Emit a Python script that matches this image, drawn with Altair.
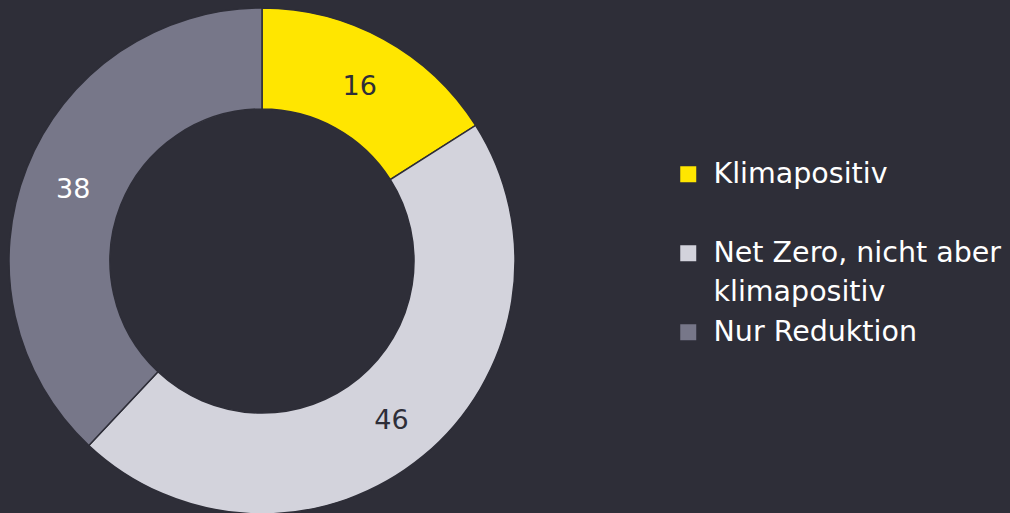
import altair as alt
import pandas as pd

categories = ["Klimapositiv", "Net Zero, nicht aber\nklimapositiv", "Nur Reduktion"]
values = [16, 46, 38]
slice_colors = ["#ffe600", "#d3d3dc", "#777789"]
label_colors = ["#2e2e38", "#2e2e38", "#ffffff"]
order = [0, 1, 2]

df = pd.DataFrame({
    "cat": categories,
    "value": values,
    "order": order,
    "lab": [str(v) for v in values],
    "labcolor": label_colors,
})

BG = "#2e2e38"
CX, CY = 262, 261

base = alt.Chart(df).encode(
    theta=alt.Theta("value:Q", stack=True),
    order=alt.Order("order:Q"),
)

arcs = base.mark_arc(
    outerRadius=253, innerRadius=152, stroke=BG, strokeWidth=1.5
).encode(
    x=alt.value(CX), y=alt.value(CY),
    color=alt.Color(
        "cat:N",
        scale=alt.Scale(domain=categories, range=slice_colors),
        legend=alt.Legend(
            title=None,
            orient="none",
            legendX=674,
            legendY=160,
            padding=0,
            symbolType="square",
            symbolSize=256,
            symbolStrokeWidth=0,
            labelFont="DejaVu Sans",
            labelFontSize=28.5,
            labelColor="#ffffff",
            labelLimit=500,
            labelOffset=11,
            labelExpr="split(datum.label, '\\n')",
            rowPadding=11,
            gridAlign="all",
        ),
    ),
)

texts = base.mark_text(
    radius=203, font="DejaVu Sans", fontSize=27, baseline="middle", align="center", dy=3.5
).encode(
    x=alt.value(CX), y=alt.value(CY),
    text="lab:N",
    color=alt.Color("labcolor:N", scale=None),
)

chart = (arcs + texts).properties(
    width=1010, height=513,
    padding=0,
    autosize=alt.AutoSizeParams(type="none"),
    background=BG,
).configure(
    style={"guide-label": {"lineHeight": 39}},
    view={"stroke": "transparent", "strokeWidth": 0},
)

chart.save("out.html", embed_options={"renderer": "svg", "actions": False})
